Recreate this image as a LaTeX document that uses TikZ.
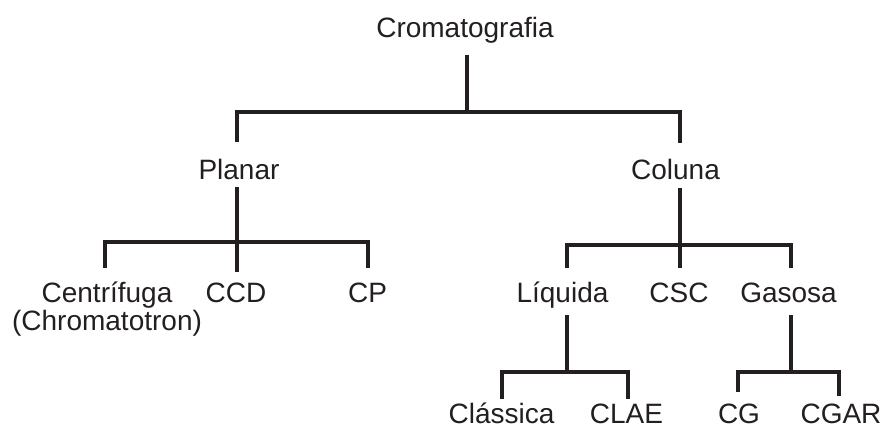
\documentclass[tikz,border=0pt]{standalone}
\usepackage{fontspec}
\setmainfont{Liberation Sans}
\definecolor{ink}{HTML}{231F20}
\begin{document}
\begin{tikzpicture}[x=1pt,y=-1pt,
  lbl/.style={anchor=base,inner sep=0pt,text=ink,font=\fontsize{28}{28}\selectfont,align=center},
  link/.style={draw=ink,line width=3.6pt,line join=miter,line cap=butt}]
\path[use as bounding box] (0,0) rectangle (883,429);
% nodes
\node[lbl] (crom) at (465,37) {Cromatografia};
\node[lbl] (planar) at (239,179) {Planar};
\node[lbl] (coluna) at (675.5,179) {Coluna};
\node[lbl] (centrifuga) at (107,330) {Centrífuga\\(Chromatotron)};
\node[lbl] (ccd) at (236,302) {CCD};
\node[lbl] (cp) at (367.5,302) {CP};
\node[lbl] (liquida) at (562.5,302) {Líquida};
\node[lbl] (csc) at (679,302) {CSC};
\node[lbl] (gasosa) at (788.5,302) {Gasosa};
\node[lbl,text depth=0pt] (classica) at (501.5,423) {Clássica};
\node[lbl,text depth=0pt] (clae) at (626.5,423) {CLAE};
\node[lbl,text depth=0pt] (cg) at (739,423) {CG};
\node[lbl,text depth=0pt] (cgar) at (841,423) {CGAR};
% level 1
\draw[link] ([shift={(2,18)}]crom.base) -- ([shift={(2,75)}]crom.base);
\draw[link] ([shift={(-2,-37)}]planar.base) |- ([shift={(4.5,-67)}]coluna.base) -- ([shift={(4.5,-36)}]coluna.base);
% level 2 left
\draw[link] ([shift={(-2,8)}]planar.base) -- ([shift={(1,-30)}]ccd.base);
\draw[link] ([shift={(-2,-62)}]centrifuga.base) |- ([shift={(0.5,-60)}]cp.base) -- ([shift={(0.5,-34)}]cp.base);
% level 2 right
\draw[link] ([shift={(4.5,9)}]coluna.base) -- ([shift={(1,-34)}]csc.base);
\draw[link] ([shift={(4.5,-34)}]liquida.base) |- ([shift={(2.5,-57)}]gasosa.base) -- ([shift={(2.5,-34)}]gasosa.base);
% level 3 left
\draw[link] ([shift={(4.5,13)}]liquida.base) -- ([shift={(4.5,70)}]liquida.base);
\draw[link] ([shift={(0.5,-24)}]classica.base) |- ([shift={(1.5,-51)}]clae.base) -- ([shift={(1.5,-24)}]clae.base);
% level 3 right
\draw[link] ([shift={(2.5,13)}]gasosa.base) -- ([shift={(2.5,70)}]gasosa.base);
\draw[link] ([shift={(-1,-31)}]cg.base) |- ([shift={(-2,-51)}]cgar.base) -- ([shift={(-2,-27)}]cgar.base);
\end{tikzpicture}
\end{document}
